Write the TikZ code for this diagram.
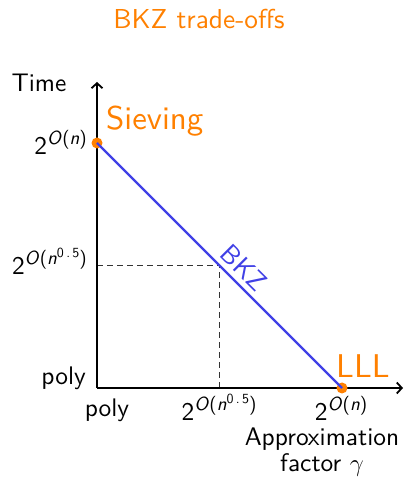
\documentclass[tikz,border=0pt]{standalone}
\usepackage{fontspec}
\setsansfont{lmsans10-regular.otf}[ItalicFont=lmsans10-oblique.otf]
\usetikzlibrary{arrows.meta}
\definecolor{bkzorange}{RGB}{255,128,0}
\definecolor{bkzblue}{RGB}{64,64,230}
\newcommand\pwr[1]{2\raisebox{10bp}{\fontsize{19}{19}\selectfont\textit{O}(#1)}}
\newcommand\nhalf{\textit{n}\raisebox{7bp}{\fontsize{14}{14}\selectfont 0\,.\,5}}
\begin{document}
\begin{tikzpicture}[x=1bp,y=1bp,
  lab/.style={font=\sffamily\fontsize{25.5}{27}\selectfont, inner sep=0pt},
  big/.style={font=\sffamily\fontsize{33}{38}\selectfont, inner sep=0pt, text=bkzorange},
  axis/.style={line width=2.4bp, -{Straight Barb[length=5bp,width=11bp,line width=1.8bp]}},
  dot/.style={circle, fill=bkzorange, inner sep=0pt, minimum size=11bp},
  guide/.style={line width=0.8bp, dash pattern=on 6bp off 4bp, black!80}]
\useasboundingbox (0,0) rectangle (404,492);
\node[inner sep=0pt, text=bkzorange, font=\sffamily\fontsize{27.5}{32}\selectfont, anchor=base] (title) at (199,463) {BKZ trade-offs};
\coordinate (O) at (97,104);
\coordinate (ytip) at (97,410);
\coordinate (xtip) at (403,104);
\coordinate (mid) at (219.5,227);
\draw[guide] (O |- mid) -- (mid);
\draw[guide] (O -| mid) -- (mid);
\draw[axis] (O) -- (ytip);
\draw[axis] (O) -- (xtip);
\node[dot] (siev) at (97,349) {};
\node[dot] (lll) at (342,104) {};
\draw[bkzblue, line width=2.4bp] (siev.center) -- node[pos=0.555, sloped, above=5bp, inner sep=0pt, font=\sffamily\fontsize{27}{30}\selectfont] (bkz) {BKZ} (lll.center);
\node[lab, anchor=base] (time) at (39,400) {Time};
\node[big, anchor=base west] (sievlab) at (106,362) {Sieving};
\node[big, anchor=base west] (llllab) at (336,114) {LLL};
\node[lab, anchor=base east] (y1) at (87,337) {\pwr{\textit{n}}};
\node[lab, anchor=base east] (y2) at (87,217) {\pwr{\nhalf}};
\node[lab, anchor=base east] (y3) at (86,107) {poly};
\node[lab, anchor=base] (x1) at (107,75) {poly};
\node[lab, anchor=base] (x2) at (219,71) {\pwr{\nhalf}};
\node[lab, anchor=base] (x3) at (341,71) {\pwr{\textit{n}}};
\node[lab, anchor=base, align=center] (xl) at (322,20) {Approximation\\factor $\gamma$};
\end{tikzpicture}
\end{document}
